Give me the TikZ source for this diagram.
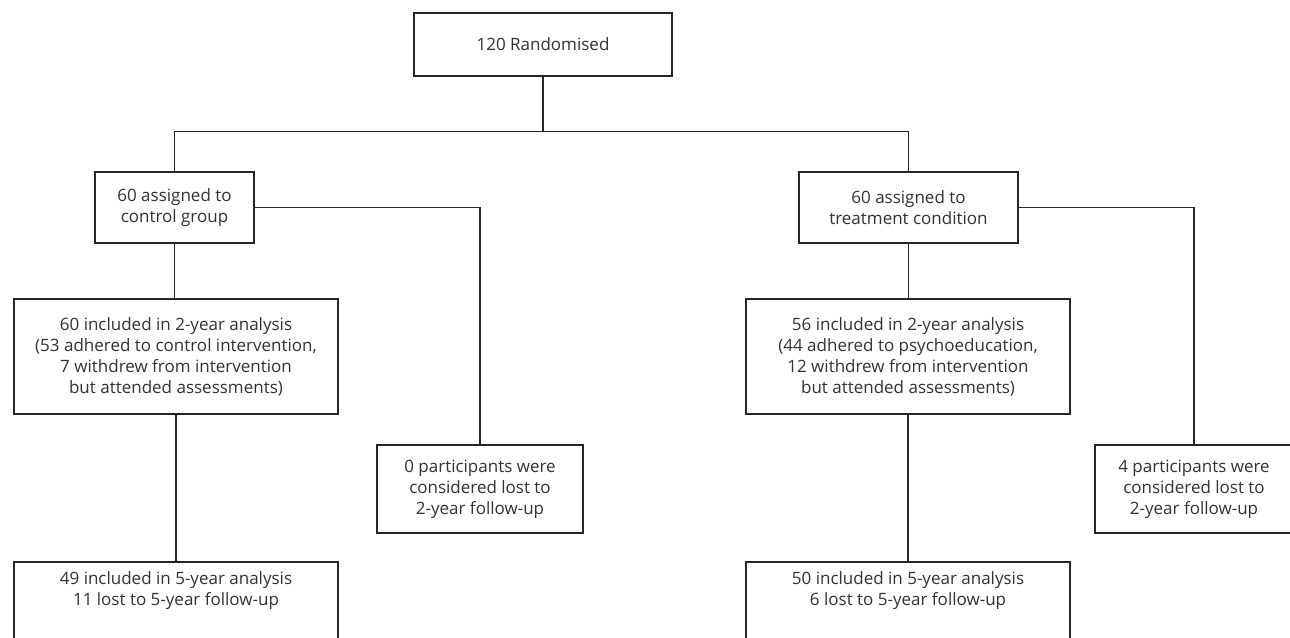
\documentclass[tikz,border=0pt]{standalone}
\usepackage{fontspec}
\setmainfont{Open Sans}
\definecolor{ln}{HTML}{262626}
\definecolor{tx}{HTML}{333333}
\begin{document}
\begin{tikzpicture}[x=1pt,y=-1pt,
  box/.style={draw=ln, line width=1.5pt, inner sep=0pt, align=center, text=tx,
    font=\fontsize{17}{21}\selectfont},
  lbl/.style={inner sep=0pt, align=center, text=tx, font=\fontsize{17}{21}\selectfont},
  conn/.style={draw=ln, line width=1.5pt}]
\useasboundingbox (0,0) rectangle (1290,637);
\fill[white] (0,0) rectangle (1290,637);
\node[box, minimum width=258pt, minimum height=63pt] (top) at (543,44.5) {120 Randomised};
\node[box, minimum width=159pt, minimum height=71pt] (ctrl) at (174.5,207.5) {60 assigned to\\control group};
\node[box, minimum width=219pt, minimum height=71pt] (treat) at (908.5,207.5) {60 assigned to\\treatment condition};
\node[box, minimum width=324pt, minimum height=115pt] (c2) at (176,356.5) {60 included in 2-year analysis\\(53 adhered to control intervention,\\7 withdrew from intervention\\but attended assessments)};
\node[box, minimum width=324pt, minimum height=115pt] (t2) at (908,356.5) {56 included in 2-year analysis\\(44 adhered to psychoeducation,\\12 withdrew from intervention\\but attended assessments)};
\node[box, minimum width=206pt, minimum height=88pt] (clost) at (480,489) {0 participants were\\considered lost to\\2-year follow-up};
\node[box, minimum width=198pt, minimum height=88pt] (tlost) at (1194,489) {4 participants were\\considered lost to\\2-year follow-up};
\node[box, minimum width=324pt, minimum height=80pt] (c5) at (176,602) {};
\node[box, minimum width=324pt, minimum height=80pt] (t5) at (908,602) {};
\node[lbl] (c5t) at (176,591) {49 included in 5-year analysis\\11 lost to 5-year follow-up};
\node[lbl] (t5t) at (908,591) {50 included in 5-year analysis\\6 lost to 5-year follow-up};
\draw[conn] (top.south) -- ++(0,55.5);
\draw[conn] (ctrl.north) -- ++(0,-40) -| (treat.north);
\draw[conn] (ctrl.east) -| (clost.north);
\draw[conn] (treat.east) -| (tlost.north);
\draw[conn] (ctrl.south) -- (ctrl.south |- c2.north);
\draw[conn] (treat.south) -- (treat.south |- t2.north);
\draw[conn] (c2.south) -- (c5.north);
\draw[conn] (t2.south) -- (t5.north);
\end{tikzpicture}
\end{document}
